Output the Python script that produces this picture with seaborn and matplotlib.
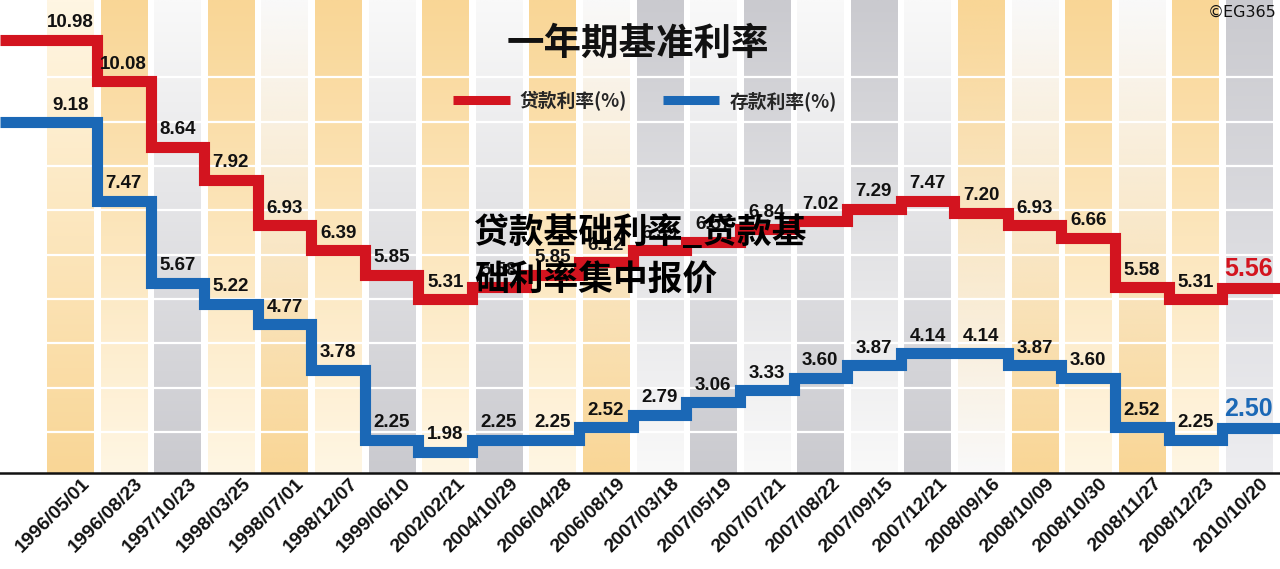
import numpy as np
import pandas as pd
import matplotlib
matplotlib.use("Agg")
import matplotlib.pyplot as plt
import matplotlib.transforms as mtransforms
import seaborn as sns

# ---- data ----
dates = ["1996/05/01", "1996/08/23", "1997/10/23", "1998/03/25", "1998/07/01",
         "1998/12/07", "1999/06/10", "2002/02/21", "2004/10/29", "2006/04/28",
         "2006/08/19", "2007/03/18", "2007/05/19", "2007/07/21", "2007/08/22",
         "2007/09/15", "2007/12/21", "2008/09/16", "2008/10/09", "2008/10/30",
         "2008/11/27", "2008/12/23", "2010/10/20"]
loan_rate = [10.98, 10.08, 8.64, 7.92, 6.93, 6.39, 5.85, 5.31, 5.58, 5.85,
             6.12, 6.39, 6.57, 6.84, 7.02, 7.29, 7.47, 7.20, 6.93, 6.66,
             5.58, 5.31, 5.56]
deposit_rate = [9.18, 7.47, 5.67, 5.22, 4.77, 3.78, 2.25, 1.98, 2.25, 2.25,
                2.52, 2.79, 3.06, 3.33, 3.60, 3.87, 4.14, 4.14, 3.87, 3.60,
                2.52, 2.25, 2.50]
series_names = ["贷款利率(%)", "存款利率(%)"]
title_text = "一年期基准利率"
overlay_text = "贷款基础利率_贷款基\n础利率集中报价"
credit_text = "©EG365"

# ---- styles ----
RED = "#D3141F"
BLUE = "#1B68B6"
Y, C, G, W = "#F9D696", "#FFF6E3", "#CACACF", "#F9F9F9"
stripe_grad = [(C, Y), (Y, C), (W, G), (Y, C), (W, Y), (Y, C), (W, G), (Y, C),
               (W, G), (Y, C), (W, Y), (G, W), (W, G), (G, W), (W, G), (G, W),
               (W, G), (Y, W), (W, Y), (Y, C), (W, Y), (Y, C), (G, "#EDEDF0")]

sns.set_theme(style="white")
plt.rcParams["font.family"] = ["Noto Sans CJK SC", "DejaVu Sans"]
NUM_FONT = ["Liberation Sans Narrow", "Liberation Sans", "DejaVu Sans"]

W_PX, H_PX = 1280, 569
fig = plt.figure(figsize=(12.8, 5.69), dpi=100)
fig.patch.set_facecolor("white")
ax = fig.add_axes([0, 96 / H_PX, 1, 473 / H_PX])
ax.set_facecolor("white")

n = len(dates)
pos = np.arange(n)
xmin, xmax = -1.31, 22.58
ylo, yhi = 1.52, 11.85

# background stripes (vertical gradients)
for i, (ctop, cbot) in enumerate(stripe_grad):
    t = np.linspace(0, 1, 128)[:, None, None]
    a = np.array(matplotlib.colors.to_rgb(ctop))[None, None, :]
    b = np.array(matplotlib.colors.to_rgb(cbot))[None, None, :]
    img = a * (1 - t) + b * t
    ax.imshow(img, extent=(i - 0.43, i + 0.43, ylo, yhi), aspect="auto",
              zorder=0, interpolation="bilinear")
# white horizontal separators in stripes
for k in range(9):
    f = 0.0867 + 0.0937 * k
    ax.axhline(ylo + f * (yhi - ylo), color="white", lw=1.6, zorder=1)

# step lines through seaborn
rows = []
for name, vals in zip(series_names, [loan_rate, deposit_rate]):
    xs = [xmin] + list(pos) + [xmax]
    vs = [vals[0]] + list(vals) + [vals[-1]]
    for x, v in zip(xs, vs):
        rows.append({"x": x, "rate": v, "series": name})
df = pd.DataFrame(rows)
sns.lineplot(data=df, x="x", y="rate", hue="series", hue_order=series_names,
             palette=[RED, BLUE], drawstyle="steps-mid", linewidth=8,
             errorbar=None, ax=ax, zorder=3, solid_joinstyle="miter",
             solid_capstyle="butt")

# value labels
for vals, col in [(loan_rate, RED), (deposit_rate, BLUE)]:
    for i, v in enumerate(vals):
        last = i == n - 1
        ax.annotate(f"{v:.2f}", (i, v), xytext=(0, 9), textcoords="offset points",
                    ha="center", va="baseline",
                    fontsize=18 if last else 13.5,
                    fontweight="bold", family=NUM_FONT,
                    color=col if last else "#111111", zorder=5)

ax.set_xlim(xmin, xmax)
ax.set_ylim(ylo, yhi)
ax.set_xticks(pos)
ax.set_xticklabels(dates, rotation=45, ha="right", va="center",
                   rotation_mode="anchor", fontsize=14, fontweight="bold",
                   family=NUM_FONT, color="#111111")
ax.tick_params(axis="x", length=0, pad=6)
offset = mtransforms.ScaledTranslation(0.17, 0, fig.dpi_scale_trans)
for lab in ax.get_xticklabels():
    lab.set_transform(lab.get_transform() + offset)
ax.set_yticks([])
ax.set_xlabel("")
ax.set_ylabel("")
for s in ["top", "left", "right"]:
    ax.spines[s].set_visible(False)
ax.spines["bottom"].set_color("#111111")
ax.spines["bottom"].set_linewidth(1.8)
ax.spines["bottom"].set_zorder(6)

# legend
leg = ax.legend(loc="center", bbox_to_anchor=(645 / W_PX, (473 - 101) / 473),
                ncol=2, frameon=False, handlelength=3.0, handletextpad=0.55,
                columnspacing=1.9, prop={"weight": "bold", "size": 13.5})
for ln in leg.get_lines():
    ln.set_linewidth(6.5)

# title, overlay and credit
fig.text(638 / W_PX, 1 - 43 / H_PX, title_text, ha="center", va="center",
         fontsize=27, fontweight="heavy", color="#111111")
fig.text(474 / W_PX, 1 - 256 / H_PX, overlay_text, ha="left", va="center",
         fontsize=25, fontweight="heavy", color="#000000", linespacing=1.45,
         zorder=10)
fig.text(1276 / W_PX, 1 - 12 / H_PX, credit_text, ha="right", va="center",
         fontsize=11.5, color="#111111", family=["DejaVu Sans"])

fig.savefig("out.png", dpi=100, facecolor="white")
